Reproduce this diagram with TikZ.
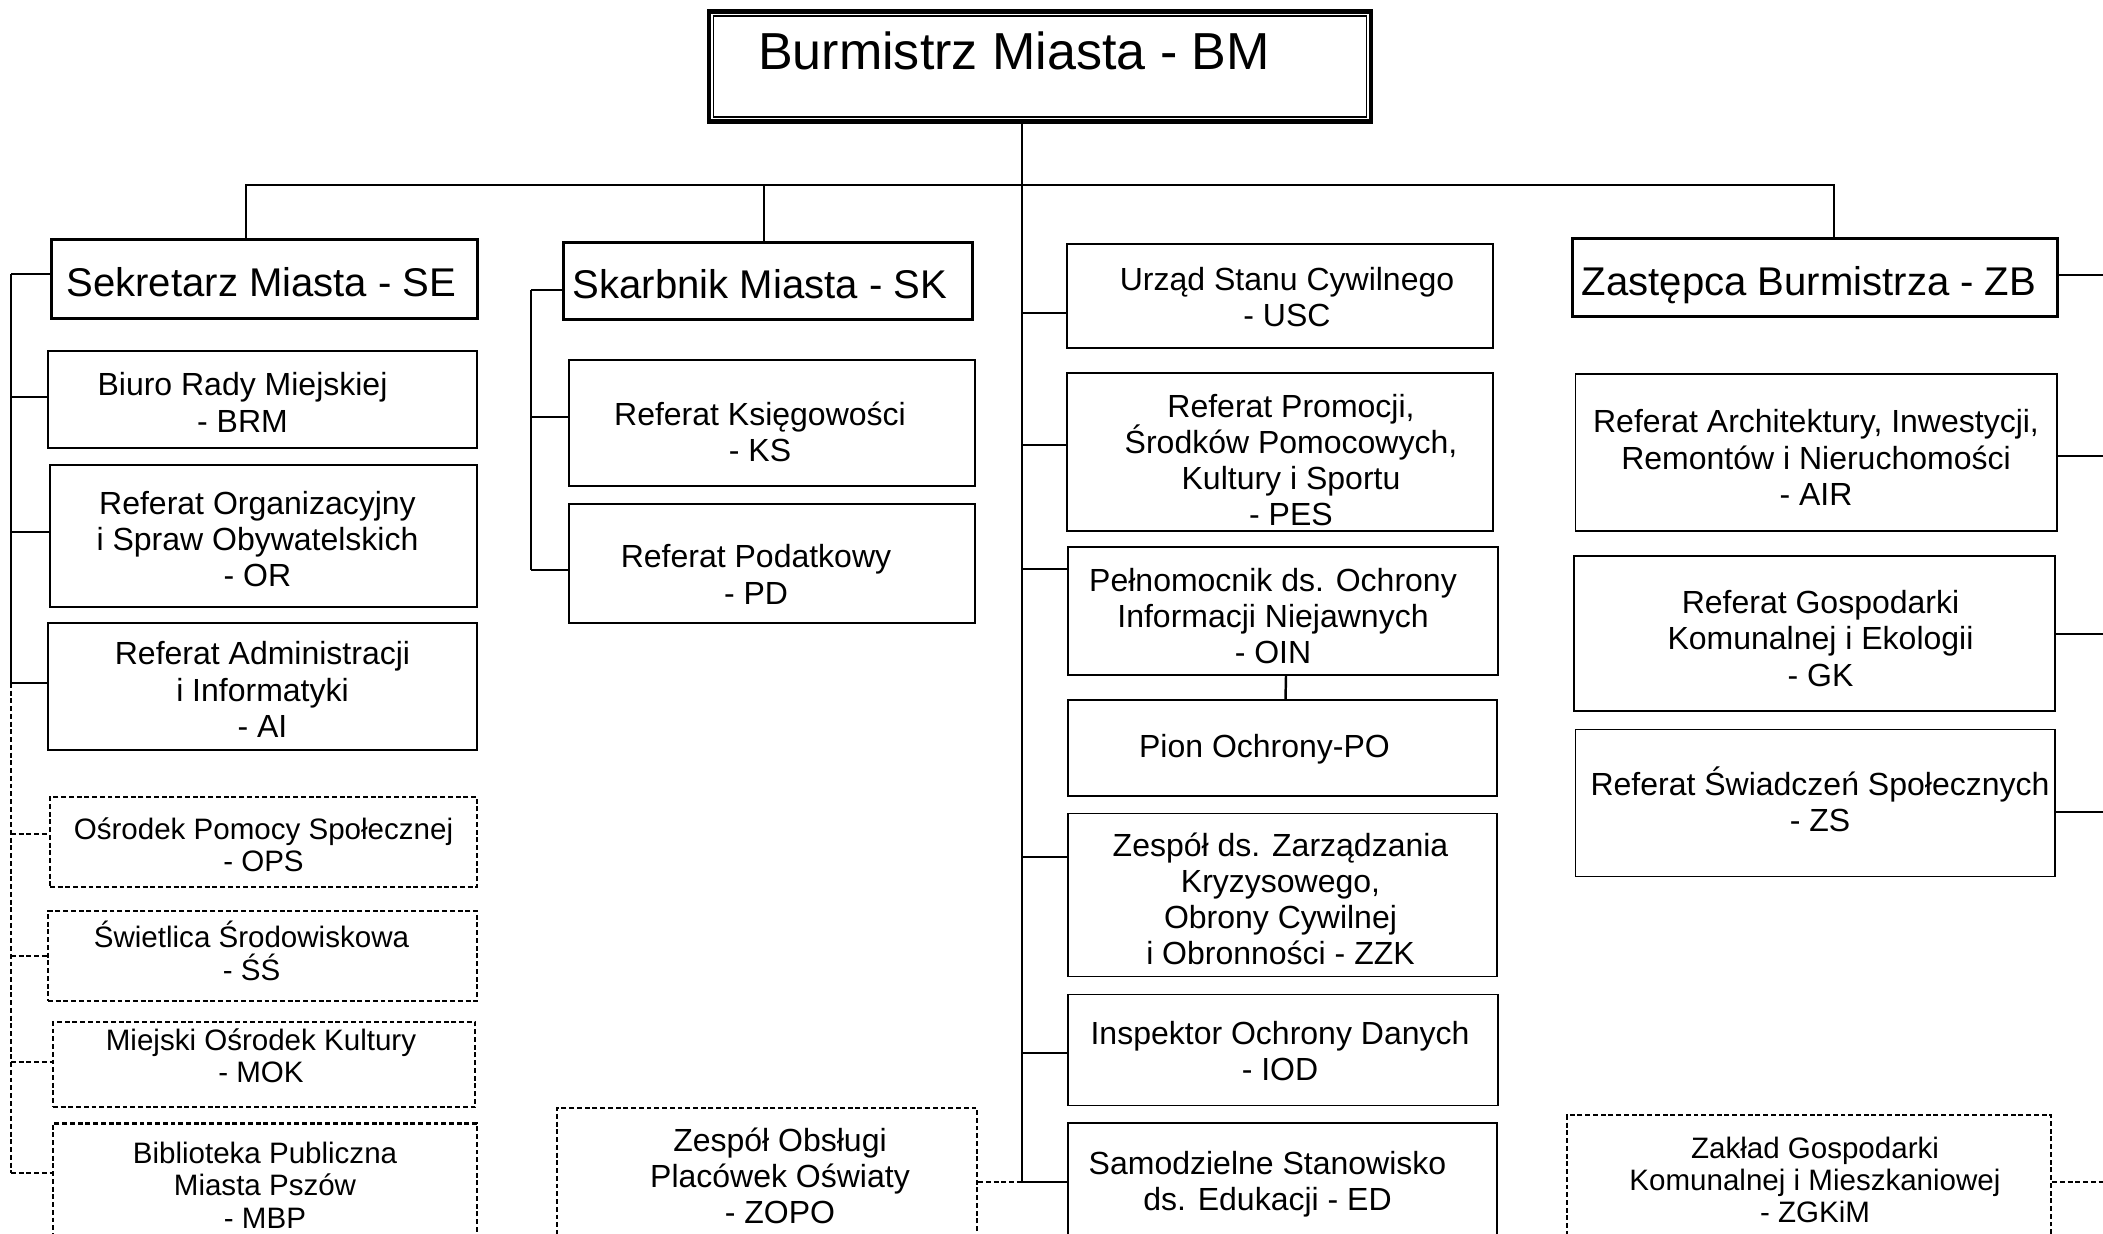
\documentclass[tikz,border=0pt]{standalone}
\usepackage{fontspec}
\setmainfont{Liberation Sans}
\usetikzlibrary{calc}

\tikzset{
  unit/.style={draw, line width=0.5pt, inner sep=0pt},
  extunit/.style={unit, line width=0.6pt, dash pattern=on 1.4pt off 0.8pt},
  headbox/.style={draw, line width=0.85pt, inner sep=0pt},
  dims/.style 2 args={minimum width=#1cm, minimum height=#2cm},
  utext/.style={align=center, inner sep=0pt, font=\fontsize{9.1}{10.3}\selectfont},
  stext/.style={utext, font=\fontsize{8.4}{9.2}\selectfont},
  htext/.style={inner sep=0pt, text height=10pt, text depth=0pt, font=\fontsize{11.4}{13}\selectfont},
  link/.style={line width=0.7pt},
  extlink/.style={line width=0.6pt, dash pattern=on 1.4pt off 0.8pt},
}

\begin{document}
\begin{tikzpicture}[x=0.01cm, y=-0.01cm]
    \useasboundingbox (0,0) rectangle (2103,1234);
    \clip (0,0) rectangle (2103,1234);

    % burmistrz
    \node [draw, line width=1.3pt, dims={6.62}{1.10}] (BM) at (1040,66.5) {};
    \draw [line width=0.45pt] ([shift={(7,7)}]BM.north west) rectangle ([shift={(-7,-7)}]BM.south east);
    \node [anchor=base, font=\fontsize{14.8}{17}\selectfont] (BMtitle) at (1014,70) {Burmistrz Miasta - BM};

    % heads
    \node [headbox, dims={4.25}{0.78}] (SE) at (264.5,279) {};
    \node [headbox, dims={4.09}{0.76}] (SK) at (768,281) {};
    \node [headbox, dims={4.84}{0.77}] (ZB) at (1815,277.5) {};
    \node [htext] (SEtext) at (261.5,279) {Sekretarz Miasta - SE};
    \node [htext] (SKtext) at (760,281) {Skarbnik Miasta - SK};
    \node [htext] (ZBtext) at (1809,277.5) {Zastępca Burmistrza - ZB};

    % sekretarz
    \node [unit, dims={4.29}{0.97}] (BRM) at (262.5,399.5) {};
    \node [unit, dims={4.27}{1.42}] (OR) at (263.5,536) {};
    \node [unit, dims={4.29}{1.27}] (AI) at (262.5,686.5) {};
    \node [extunit, dims={4.27}{0.90}] (OPS) at (263.5,842) {};
    \node [extunit, dims={4.29}{0.90}] (SS) at (262.5,956) {};
    \node [extunit, dims={4.22}{0.85}] (MOK) at (264,1064.5) {};
    \node [extunit, dims={4.24}{1.25}] (MBP) at (265,1186) {};
    \node [utext] (BRMtext) at (242.5,402.5) {Biuro Rady Miejskiej\\- BRM};
    \node [utext] (ORtext) at (257.5,539) {Referat Organizacyjny\\i Spraw Obywatelskich\\- OR};
    \node [utext] (AItext) at (262.5,689.5) {Referat Administracji\\i Informatyki\\- AI};
    \node [stext] (OPStext) at (263.5,845) {Ośrodek Pomocy Społecznej\\- OPS};
    \node [stext] (SStext) at (251.5,951) {Świetlica Środowiskowa\\- ŚŚ};
    \node [stext] (MOKtext) at (261,1055.5) {Miejski Ośrodek Kultury\\- MOK};
    \node [stext] (MBPtext) at (265,1185) {Biblioteka Publiczna\\Miasta Pszów\\- MBP};

    % skarbnik
    \node [unit, dims={4.06}{1.26}] (KS) at (772,423) {};
    \node [unit, dims={4.06}{1.19}] (PD) at (772,563.5) {};
    \node [extunit, dims={4.20}{1.36}] (ZOPO) at (767,1176) {};
    \node [utext] (KStext) at (760,432) {Referat Księgowości\\- KS};
    \node [utext] (PDtext) at (756,574.5) {Referat Podatkowy\\- PD};
    \node [utext] (ZOPOtext) at (780,1176) {Zespół Obsługi\\Placówek Oświaty\\- ZOPO};

    % pod burmistrzem
    \node [unit, dims={4.26}{1.04}] (USC) at (1280,296) {};
    \node [unit, dims={4.26}{1.58}] (PES) at (1280,452) {};
    \node [unit, dims={4.30}{1.28}] (OIN) at (1283,611) {};
    \node [unit, dims={4.29}{0.96}] (PO) at (1282.5,748) {};
    \node [unit, dims={4.29}{1.63}] (ZZK) at (1282.5,895) {};
    \node [unit, dims={4.30}{1.11}] (IOD) at (1283,1050) {};
    \node [unit, dims={4.29}{1.16}] (ED) at (1282.5,1181) {};
    \node [utext] (USCtext) at (1287,297) {Urząd Stanu Cywilnego\\- USC};
    \node [utext] (PEStext) at (1291,460) {Referat Promocji,\\Środków Pomocowych,\\Kultury i Sportu\\- PES};
    \node [utext] (OINtext) at (1273,616) {Pełnomocnik ds. Ochrony\\Informacji Niejawnych\\- OIN};
    \node [utext] (POtext) at (1264.5,749) {Pion Ochrony-PO};
    \node [utext] (ZZKtext) at (1280.5,899) {Zespół ds. Zarządzania\\Kryzysowego,\\Obrony Cywilnej\\i Obronności - ZZK};
    \node [utext] (IODtext) at (1280,1051) {Inspektor Ochrony Danych\\- IOD};
    \node [utext] (EDtext) at (1267.5,1184) {Samodzielne Stanowisko\\ds. Edukacji - ED};

    % zastepca
    \node [unit, dims={4.81}{1.57}] (AIR) at (1816,452.5) {};
    \node [unit, dims={4.81}{1.55}] (GK) at (1814.5,633.5) {};
    \node [unit, dims={4.79}{1.47}] (ZS) at (1815,803) {};
    \node [extunit, dims={4.84}{1.30}] (ZGKiM) at (1809,1180) {};
    \node [utext] (AIRtext) at (1816,457.5) {Referat Architektury, Inwestycji,\\Remontów i Nieruchomości\\- AIR};
    \node [utext] (GKtext) at (1820.5,638.5) {Referat Gospodarki\\Komunalnej i Ekologii\\- GK};
    \node [utext] (ZStext) at (1820,799) {Referat Świadczeń Społecznych\\- ZS};
    \node [stext] (ZGKiMtext) at (1815,1180) {Zakład Gospodarki\\Komunalnej i Mieszkaniowej\\- ZGKiM};

    % lines
    \coordinate (seSpine) at (11,0);
    \coordinate (skSpine) at (531,0);
    \coordinate (trunk) at (1022,0);
    \coordinate (zbSpine) at (2130,0);
    \coordinate (seDrop) at (246,185);
    \coordinate (skDrop) at (764,185);
    \coordinate (zbDrop) at (1834,185);

    \draw [link] (seDrop |- SE.north) -- (seDrop) -- (zbDrop) -- (zbDrop |- ZB.north);
    \draw [link] (skDrop) -- (skDrop |- SK.north);
    \draw [link] (trunk |- BM.south) -- (trunk |- 0,1182);

    \draw [link] (seSpine |- 0,274) -- (seSpine |- 0,683);
    \draw [extlink] (seSpine |- 0,683) -- (seSpine |- 0,1173);
    \foreach \n/\y in {SE/274, BRM/397, OR/532, AI/683}
        \draw [link] (seSpine |- 0,\y) -- (\n.west |- 0,\y);
    \foreach \n/\y in {OPS/834, SS/956, MOK/1062, MBP/1173}
        \draw [extlink] (seSpine |- 0,\y) -- (\n.west |- 0,\y);

    \draw [link] (skSpine |- 0,290) -- (skSpine |- 0,570);
    \foreach \n/\y in {SK/290, KS/417, PD/570}
        \draw [link] (skSpine |- 0,\y) -- (\n.west |- 0,\y);

    \foreach \n/\y in {USC/313, PES/445, OIN/569, ZZK/857, IOD/1053, ED/1182}
        \draw [link] (trunk |- 0,\y) -- (\n.west |- 0,\y);
    \draw [extlink] (ZOPO.east |- 0,1182) -- (trunk |- 0,1182);
    \draw [link] ([xshift=0.03cm]OIN.south) -- ([xshift=0.03cm]PO.north);

    \foreach \n/\y in {ZB/275, AIR/456, GK/634, ZS/812}
        \draw [link] (\n.east |- 0,\y) -- (zbSpine |- 0,\y);
    \draw [extlink] (ZGKiM.east |- 0,1182) -- (zbSpine |- 0,1182);
\end{tikzpicture}
\end{document}
